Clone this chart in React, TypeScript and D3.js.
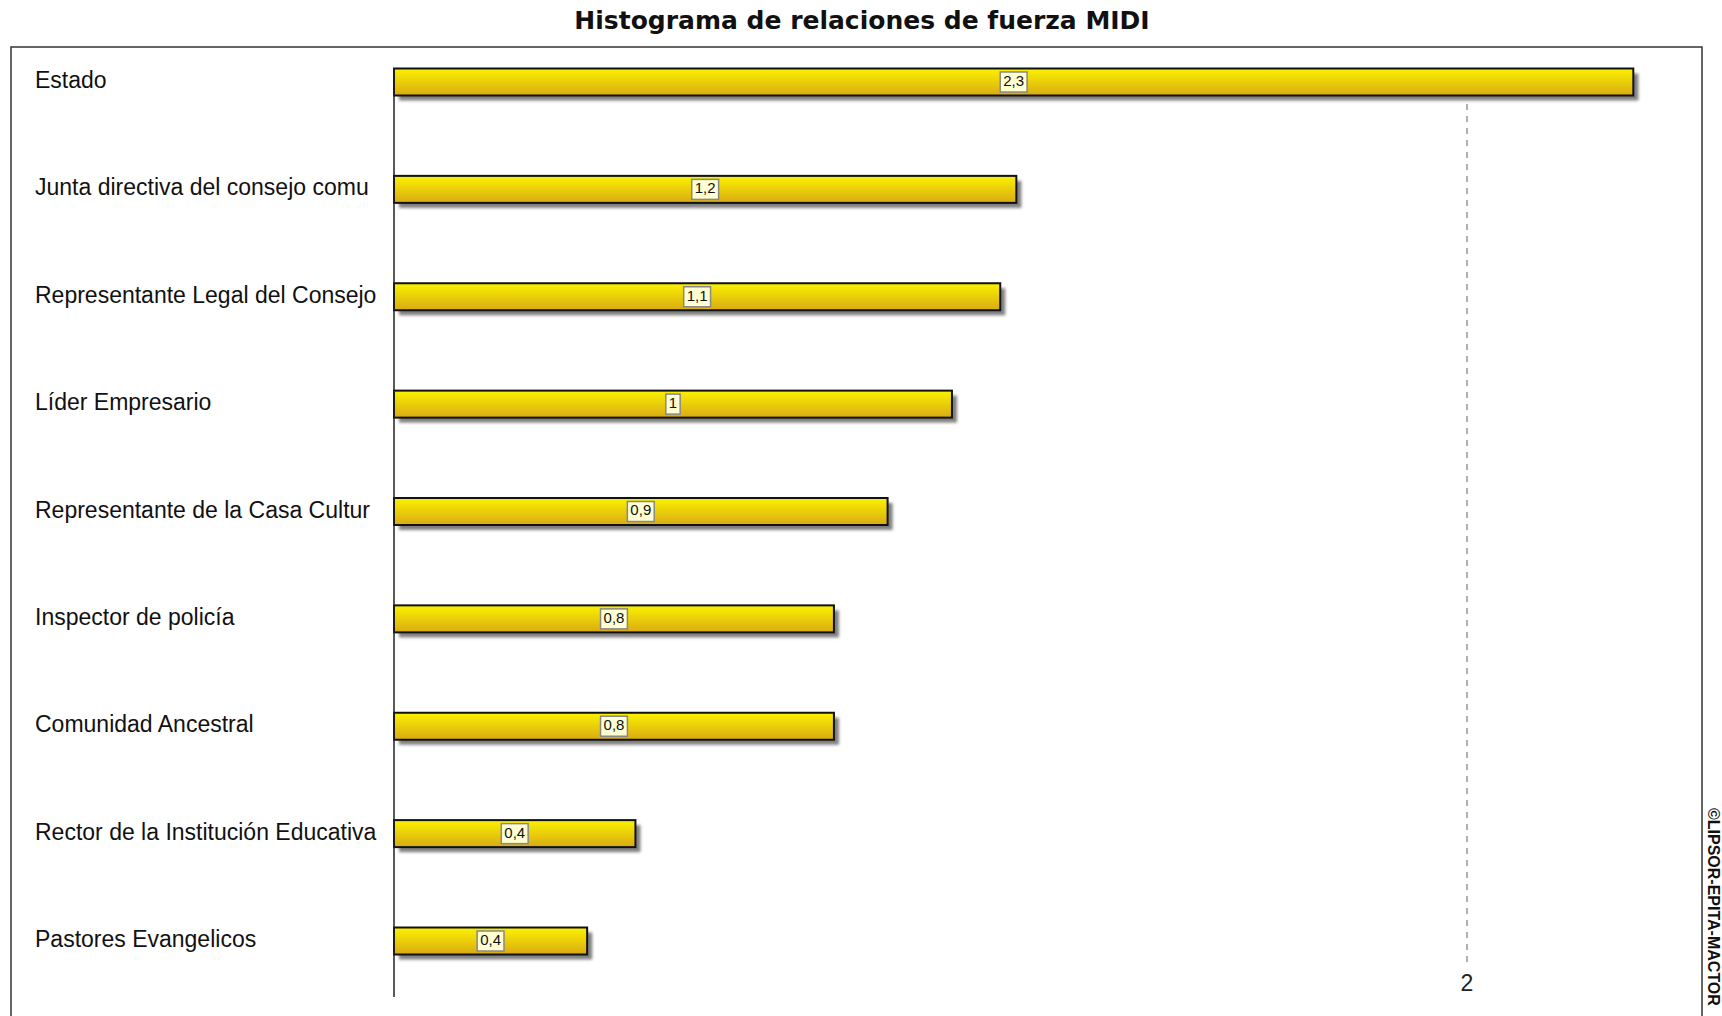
import React, { useEffect, useRef } from 'react';
import * as d3 from 'd3';

const categories = [
  'Estado',
  'Junta directiva del consejo comu',
  'Representante Legal del Consejo',
  'Líder Empresario',
  'Representante de la Casa Cultur',
  'Inspector de policía',
  'Comunidad Ancestral',
  'Rector de la Institución Educativa',
  'Pastores Evangelicos',
];
const values = [2.31, 1.16, 1.13, 1.04, 0.92, 0.82, 0.82, 0.45, 0.36];
const valueLabels = ['2,3', '1,2', '1,1', '1', '0,9', '0,8', '0,8', '0,4', '0,4'];
const xTicks = [2];
const tickLabels = ['2'];

function drawChart(el: SVGSVGElement) {
  const svg = d3.select(el);
  svg.selectAll('*').remove();
  const W = 1722, H = 1016;
  const font = '"Liberation Sans", Arial, sans-serif';

  const defs = svg.append('defs');
  const grad = defs.append('linearGradient')
    .attr('id', 'barGrad').attr('x1', 0).attr('y1', 0).attr('x2', 0).attr('y2', 1);
  grad.append('stop').attr('offset', '0%').attr('stop-color', '#fbf200');
  grad.append('stop').attr('offset', '100%').attr('stop-color', '#d9aa14');
  const blur = defs.append('filter').attr('id', 'shadowBlur')
    .attr('x', '-5%').attr('y', '-50%').attr('width', '110%').attr('height', '200%');
  blur.append('feGaussianBlur').attr('stdDeviation', 1.5);

  svg.append('rect').attr('width', W).attr('height', H).attr('fill', '#fff');

  svg.append('text')
    .attr('x', 862).attr('y', 22)
    .attr('text-anchor', 'middle').attr('dominant-baseline', 'middle')
    .attr('font-family', '"DejaVu Sans", Verdana, sans-serif').attr('font-weight', 'bold').attr('font-size', 25)
    .attr('fill', '#111')
    .text('Histograma de relaciones de fuerza MIDI');

  // frame
  svg.append('rect')
    .attr('x', 11).attr('y', 47).attr('width', 1691).attr('height', 1000)
    .attr('fill', 'none').attr('stroke', '#333').attr('stroke-width', 1.5);

  const x = d3.scaleLinear().domain([0, 2]).range([394, 1467]);
  const y = d3.scalePoint<string>().domain(categories).range([82, 941]);
  const barH = 27;

  // dashed grid line
  xTicks.forEach((t, i) => {
    svg.append('line')
      .attr('x1', x(t)).attr('x2', x(t)).attr('y1', 104).attr('y2', 966)
      .attr('stroke', '#888').attr('stroke-width', 1.3).attr('stroke-dasharray', '6,6');
    svg.append('text')
      .attr('x', x(t)).attr('y', 985)
      .attr('text-anchor', 'middle').attr('dominant-baseline', 'middle')
      .attr('font-family', font).attr('font-size', 23).attr('fill', '#222')
      .text(tickLabels[i]);
  });

  const rows = svg.append('g').selectAll('g').data(categories).join('g');

  rows.append('rect')
    .attr('x', x(0) + 5).attr('y', d => (y(d) as number) - barH / 2 + 5)
    .attr('width', (d, i) => x(values[i]) - x(0)).attr('height', barH)
    .attr('fill', '#555').attr('opacity', 0.75).attr('filter', 'url(#shadowBlur)');

  rows.append('rect')
    .attr('x', x(0)).attr('y', d => (y(d) as number) - barH / 2)
    .attr('width', (d, i) => x(values[i]) - x(0)).attr('height', barH)
    .attr('fill', 'url(#barGrad)').attr('stroke', '#111').attr('stroke-width', 2);

  rows.append('text')
    .attr('x', 35).attr('y', d => y(d) as number)
    .attr('dominant-baseline', 'middle')
    .attr('font-family', font).attr('font-size', 23).attr('fill', '#111')
    .text(d => d);

  const lbl = rows.append('g')
    .attr('transform', (d, i) => `translate(${(x(0) + x(values[i])) / 2},${y(d)})`);
  lbl.append('text')
    .attr('text-anchor', 'middle').attr('dominant-baseline', 'middle')
    .attr('font-family', font).attr('font-size', 15).attr('fill', '#111')
    .text((d, i) => valueLabels[i]);
  lbl.each(function () {
    const g = d3.select(this);
    const bb = g.select<SVGTextElement>('text').node()!.getBBox();
    g.insert('rect', 'text')
      .attr('x', bb.x - 3).attr('y', -10)
      .attr('width', bb.width + 6).attr('height', 20)
      .attr('fill', '#ffffd2').attr('stroke', '#888').attr('stroke-width', 1.5);
  });

  // axis line
  svg.append('line')
    .attr('x1', x(0)).attr('x2', x(0)).attr('y1', 68).attr('y2', 997)
    .attr('stroke', '#222').attr('stroke-width', 1.5);

  svg.append('text')
    .attr('transform', 'translate(1712,808) rotate(90)')
    .attr('dominant-baseline', 'middle')
    .attr('font-family', font).attr('font-weight', 'bold').attr('font-size', 16)
    .attr('fill', '#111')
    .text('©LIPSOR-EPITA-MACTOR');
}

export default function App() {
  const ref = useRef<SVGSVGElement>(null);
  useEffect(() => {
    if (ref.current) drawChart(ref.current);
  }, []);
  return (
    <svg ref={ref} width={1722} height={1016}
      style={{ position: 'absolute', left: 0, top: 0, display: 'block' }} />
  );
}
